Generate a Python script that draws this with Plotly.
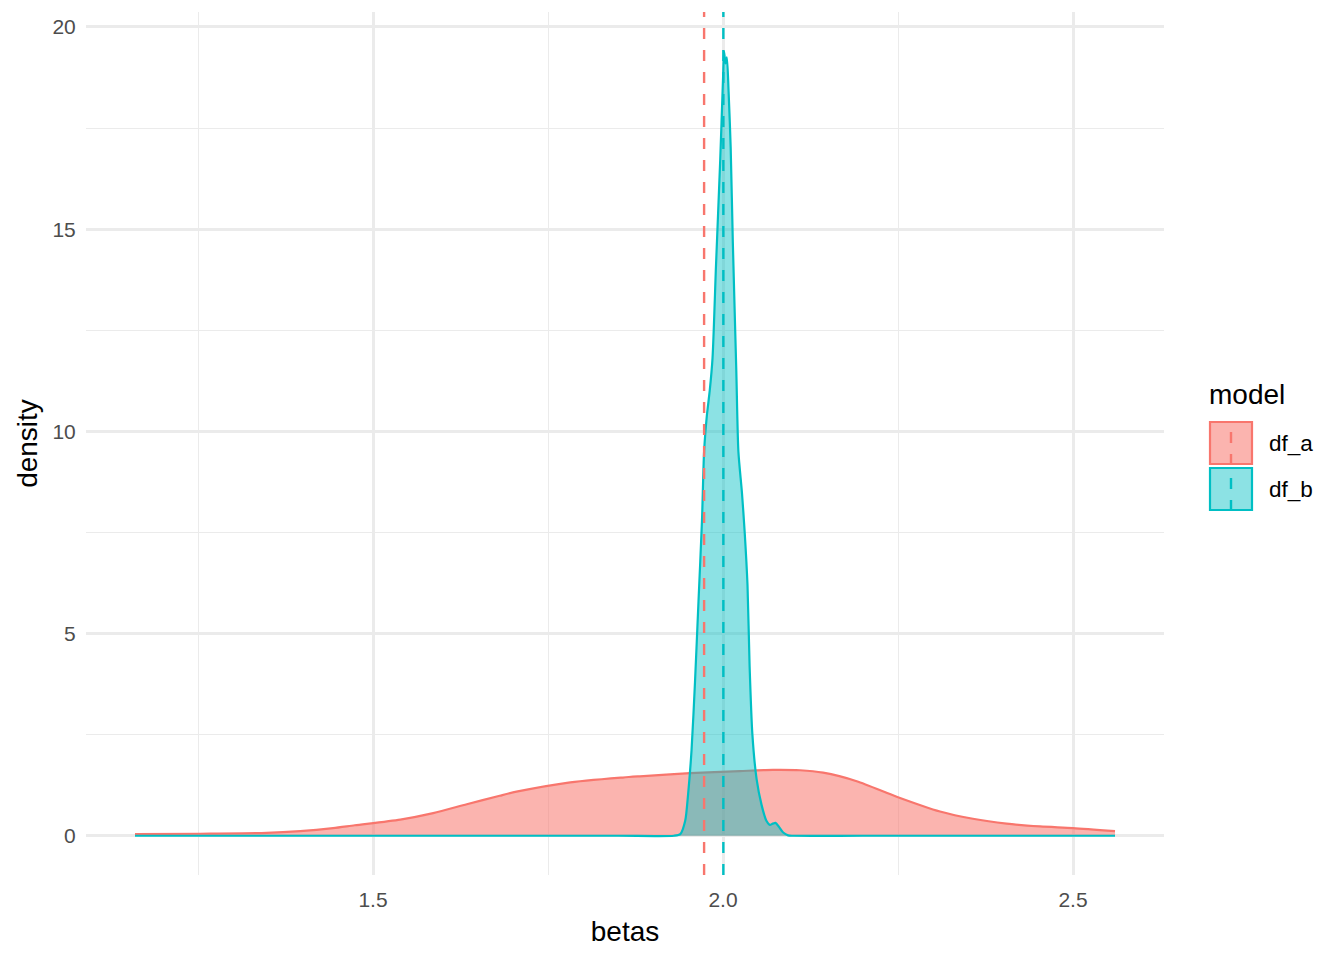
import plotly.graph_objects as go

# ---- data ----
model_names = ["df_a", "df_b"]

betas_a = [1.160, 1.253, 1.348, 1.396, 1.443, 1.474, 1.539, 1.586, 1.634, 1.681,
           1.705, 1.777, 1.857, 1.881, 1.953, 2.024, 2.071, 2.110, 2.143, 2.191,
           2.249, 2.310, 2.357, 2.405, 2.453, 2.500, 2.560]
density_a = [0.04, 0.05, 0.07, 0.115, 0.19, 0.26, 0.40, 0.56, 0.78, 0.99,
             1.09, 1.31, 1.44, 1.47, 1.55, 1.60, 1.63, 1.62, 1.56, 1.35,
             0.96, 0.60, 0.42, 0.30, 0.23, 0.19, 0.115]

betas_b = [1.160, 1.400, 1.650, 1.850, 1.930, 1.939, 1.946, 1.950, 1.955, 1.960,
           1.965, 1.970, 1.973, 1.977, 1.981, 1.985, 1.990, 1.996, 2.000, 2.0015,
           2.0035, 2.0055, 2.008, 2.011, 2.014, 2.019, 2.022, 2.027, 2.031, 2.035,
           2.038, 2.042, 2.048, 2.055, 2.062, 2.067, 2.071, 2.075, 2.080, 2.086,
           2.093, 2.100, 2.200, 2.400, 2.560]
density_b = [0.0, 0.0, 0.0, 0.0, 0.0, 0.04, 0.37, 1.0, 2.1, 3.8,
             5.8, 7.8, 9.5, 10.4, 11.0, 11.8, 14.1, 16.7, 18.7, 19.4,
             19.1, 19.25, 18.4, 17.0, 14.7, 11.5, 9.5, 8.5, 7.5, 6.2,
             4.2, 2.5, 1.4, 0.77, 0.37, 0.27, 0.30, 0.32, 0.22, 0.08,
             0.01, 0.0, 0.0, 0.0, 0.0]

mean_betas = [1.973, 2.0005]

x_ticks = [1.5, 2.0, 2.5]
x_tick_labels = ["1.5", "2.0", "2.5"]
y_ticks = [0, 5, 10, 15, 20]
y_tick_labels = ["0", "5", "10", "15", "20"]

line_colors = ["#F8766D", "#00BFC4"]
fill_colors = ["rgba(248,118,109,0.55)", "rgba(0,191,196,0.45)"]

# ---- figure (page body adds an 8px offset) ----
OFF = 8
W, H = 1344 - OFF, 960 - OFF
L, R, T, B = 86 - OFF, 180, 12 - OFF, 85
FONT = "Liberation Sans, Arial, Helvetica, sans-serif"

fig = go.Figure()
for xs, ys, name, lc, fc in [(betas_a, density_a, model_names[0], line_colors[0], fill_colors[0]),
                             (betas_b, density_b, model_names[1], line_colors[1], fill_colors[1])]:
    fig.add_trace(go.Scatter(
        x=xs, y=ys, name=name, mode="lines",
        line=dict(color=lc, width=2.2, shape="spline", smoothing=0.7),
        fill="tozeroy", fillcolor=fc, showlegend=False,
    ))

for xv, lc in zip(mean_betas, line_colors):
    fig.add_shape(type="line", xref="x", yref="paper", x0=xv, x1=xv, y0=0, y1=1,
                  line=dict(color=lc, width=2.4, dash="11px,11px"), layer="above")

# ---- manual legend (ggplot style); positions given in screen pixels ----
pw = W - L - R
ph = H - T - B

def px2paper_x(px):
    return (px - OFF - L) / pw

def px2paper_y(py):
    return (H - B - (py - OFF)) / ph

fig.add_annotation(x=px2paper_x(1207), y=px2paper_y(395), xref="paper", yref="paper",
                   text="model", showarrow=False, xanchor="left", yanchor="middle",
                   font=dict(family=FONT, size=28, color="black"))
key_tops = [421, 467]
for i, (name, lc, fc) in enumerate(zip(model_names, line_colors, fill_colors)):
    top = key_tops[i]
    fig.add_shape(type="rect", xref="paper", yref="paper",
                  x0=px2paper_x(1210), x1=px2paper_x(1252),
                  y0=px2paper_y(top + 43), y1=px2paper_y(top + 1),
                  line=dict(color=lc, width=2.2), fillcolor=fc)
    fig.add_shape(type="line", xref="paper", yref="paper",
                  x0=px2paper_x(1231), x1=px2paper_x(1231),
                  y0=px2paper_y(top + 44), y1=px2paper_y(top),
                  line=dict(color=lc, width=2.4, dash="11px,11px"))
    fig.add_annotation(x=px2paper_x(1267), y=px2paper_y(top + 22), xref="paper", yref="paper",
                       text=name, showarrow=False, xanchor="left", yanchor="middle",
                       font=dict(family=FONT, size=22.5, color="black"))

fig.update_layout(
    width=W, height=H,
    margin=dict(l=L, r=R, t=T, b=B, autoexpand=False),
    paper_bgcolor="white", plot_bgcolor="white",
    font=dict(family=FONT, color="black"),
    showlegend=False,
    xaxis=dict(
        range=[1.09, 2.63], tickvals=x_ticks, ticktext=x_tick_labels,
        showgrid=True, gridcolor="#EBEBEB", gridwidth=2.5,
        minor=dict(tickvals=[1.25, 1.75, 2.25], showgrid=True, gridcolor="#EBEBEB", gridwidth=1.3),
        zeroline=False, showline=False,
        ticks="outside", ticklen=6, tickcolor="rgba(0,0,0,0)",
        tickfont=dict(family=FONT, size=21, color="#4D4D4D"),
        title=dict(text="betas", font=dict(family=FONT, size=28, color="black"), standoff=11),
        automargin=False,
    ),
    yaxis=dict(
        range=[-0.97, 20.37], tickvals=y_ticks, ticktext=y_tick_labels,
        showgrid=True, gridcolor="#EBEBEB", gridwidth=2.5,
        minor=dict(tickvals=[2.5, 7.5, 12.5, 17.5], showgrid=True, gridcolor="#EBEBEB", gridwidth=1.3),
        zeroline=False, showline=False,
        ticks="outside", ticklen=5, tickcolor="rgba(0,0,0,0)",
        tickfont=dict(family=FONT, size=21, color="#4D4D4D"),
        title=dict(text="density", font=dict(family=FONT, size=28, color="black"), standoff=6),
        automargin=False,
    ),
)

fig.write_html("out.html")
